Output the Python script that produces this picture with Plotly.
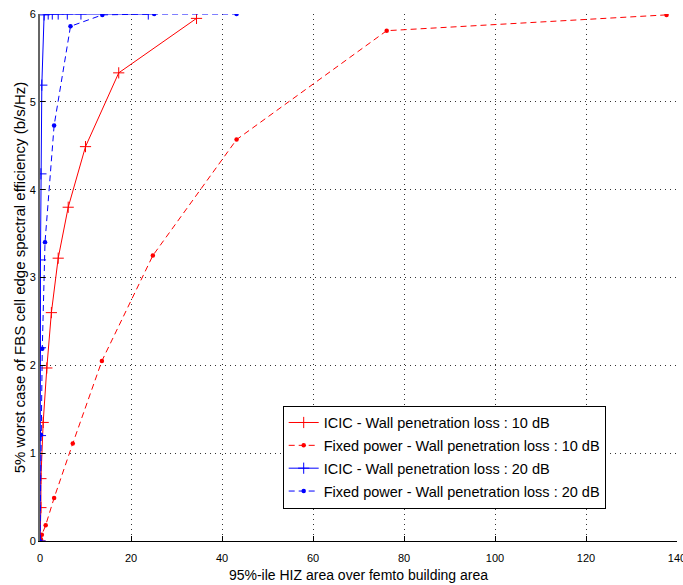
import plotly.graph_objects as go

# ICIC - 10 dB (red solid, + markers)
icic10_x = [0.0, 0.2, 0.2, 0.7, 1.5, 2.5, 4.0, 6.2, 10.0, 17.3, 34.4]
icic10_y = [0.0, 0.38, 0.71, 1.35, 1.97, 2.60, 3.22, 3.80, 4.49, 5.33, 5.95]

# Fixed power - 10 dB (red dashed, dot markers)
fixed10_x = [0.0, 0.2, 0.4, 1.25, 3.1, 7.2, 13.6, 24.8, 43.2, 76.2, 137.7]
fixed10_y = [0.0, 0.02, 0.07, 0.18, 0.49, 1.11, 2.05, 3.25, 4.57, 5.81, 5.99]

# ICIC - 20 dB (blue solid, + markers)
icic20_x = [0.0, 0.1, 0.1, 0.1, 0.2, 0.4, 0.9, 1.8, 2.7, 4.0, 6.0, 9.0, 23.8]
icic20_y = [0.0, 1.2, 2.2, 3.2, 4.18, 5.19, 5.99, 6.0, 6.0, 6.0, 6.0, 6.0, 6.0]

# Fixed power - 20 dB (blue dashed, dot markers)
fixed20_x = [0.0, 0.2, 0.5, 1.1, 3.1, 6.7, 13.7, 25.1, 43.2]
fixed20_y = [0.0, 1.21, 2.19, 3.40, 4.73, 5.86, 5.99, 6.0, 6.0]

names = [
    "ICIC - Wall penetration loss : 10 dB",
    "Fixed power - Wall penetration loss : 10 dB",
    "ICIC - Wall penetration loss : 20 dB",
    "Fixed power - Wall penetration loss : 20 dB",
]

x_ticks = [0, 20, 40, 60, 80, 100, 120, 140]
y_ticks = [0, 1, 2, 3, 4, 5, 6]

fig = go.Figure()
fig.add_trace(go.Scatter(x=icic10_x, y=icic10_y, mode="lines+markers", name=names[0], legendgroup="a",
                         line=dict(color="#ff0000", width=1),
                         marker=dict(symbol="cross-thin", size=8, line=dict(color="#ff0000", width=1))))
fig.add_trace(go.Scatter(x=fixed10_x, y=fixed10_y, mode="lines+markers", name=names[1], legendgroup="b",
                         line=dict(color="#ff0000", width=1, dash="6px,4px"),
                         marker=dict(symbol="circle", size=4.5, color="#ff0000")))
fig.add_trace(go.Scatter(x=icic20_x, y=icic20_y, mode="lines+markers", name=names[2], legendgroup="c",
                         line=dict(color="#0000ff", width=1),
                         marker=dict(symbol="cross-thin", size=8, line=dict(color="#0000ff", width=1))))
fig.add_trace(go.Scatter(x=fixed20_x, y=fixed20_y, mode="lines+markers", name=names[3], legendgroup="d",
                         line=dict(color="#0000ff", width=1, dash="6px,4px"),
                         marker=dict(symbol="circle", size=4.5, color="#0000ff")))

axis_font = dict(family="Liberation Sans, Arial, sans-serif", size=11, color="#000")
fig.update_layout(
    width=683, height=585,
    margin=dict(l=40, r=6, t=14, b=44, autoexpand=False),
    paper_bgcolor="white", plot_bgcolor="white",
    font=dict(family="Liberation Sans, Arial, sans-serif", size=12, color="#000"),
    showlegend=True,
    legend=dict(x=0.381, y=0.257, xanchor="left", yanchor="top",
                bgcolor="white", bordercolor="#000", borderwidth=1,
                font=dict(size=14.5), tracegroupgap=1, itemwidth=30),
    xaxis=dict(range=[0, 140], tickvals=x_ticks, ticks="inside", ticklen=5,
               tickcolor="#000", showline=True, linecolor="#000", linewidth=1,
               showgrid=True, gridcolor="#333", griddash="1px,4px", gridwidth=1,
               zeroline=False, tickfont=axis_font, automargin=False, ticklabelstandoff=7,
               ticklabeloverflow="allow",
               title=dict(text="95%-ile HIZ area over femto building area", standoff=6,
                          font=dict(size=14))),
    yaxis=dict(range=[0, 6], tickvals=y_ticks, ticks="inside", ticklen=5,
               tickcolor="#000", showline=True, linecolor="#666", linewidth=2,
               showgrid=True, gridcolor="#333", griddash="1px,4px", gridwidth=1,
               zeroline=False, tickfont=axis_font, automargin=False,
               ticklabeloverflow="allow",
               title=dict(text="5% worst case of FBS cell edge spectral efficiency (b/s/Hz)",
                          standoff=0, font=dict(size=15))),
)

fig.write_html("out.html",
               config={"displayModeBar": False},
               post_script="document.body.style.margin='0';document.body.style.overflow='hidden';")
